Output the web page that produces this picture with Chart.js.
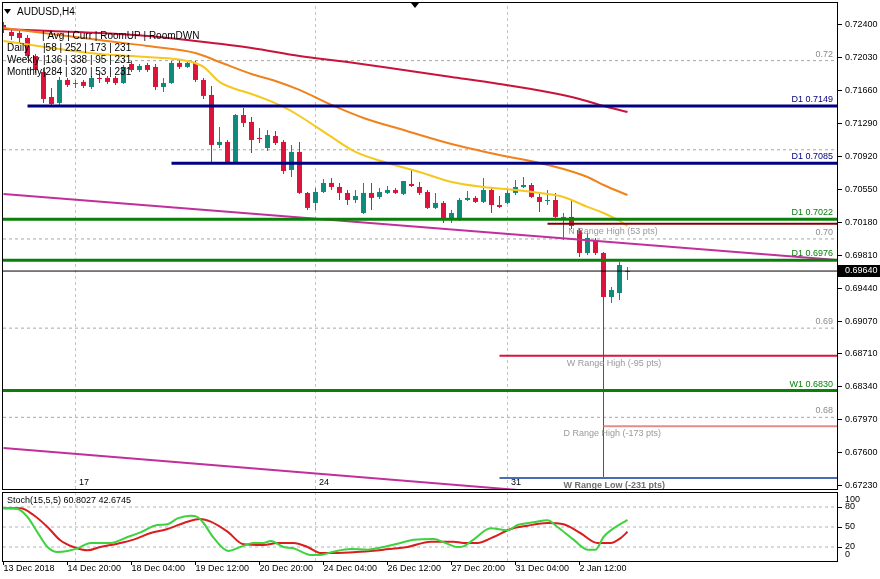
<!DOCTYPE html>
<html><head><meta charset="utf-8">
<script src="https://cdn.jsdelivr.net/npm/chart.js@4.4.1/dist/chart.umd.min.js"></script>
<style>
html,body{margin:0;padding:0;background:#fff;width:880px;height:579px;overflow:hidden}
#wrap{position:relative;width:880px;height:579px;background:#fff}
canvas{position:absolute;left:0}
#main{top:0}
#stoch{top:491px}
</style></head><body>
<div id="wrap"><canvas id="main" width="880" height="491"></canvas><canvas id="stoch" width="880" height="88"></canvas></div>
<script>
// ---------------- DATA ----------------
const symbol = 'AUDUSD,H4';
const xTickIdx = [0, 8, 16, 24, 32, 40, 48, 56, 64, 72];
const xTickLabels = ['13 Dec 2018','14 Dec 20:00','18 Dec 04:00','19 Dec 12:00','20 Dec 20:00','24 Dec 04:00','26 Dec 12:00','27 Dec 20:00','31 Dec 04:00','2 Jan 12:00'];
const sepIdx = [9, 39, 63];
const sepLabels = ['17', '24', '31'];
const yTicks = [0.72400,0.72030,0.71660,0.71290,0.70920,0.70550,0.70180,0.69810,0.69440,0.69070,0.68710,0.68340,0.67970,0.67600,0.67230];

const open  = [0.72400,0.72321,0.72310,0.72254,0.72052,0.71873,0.71592,0.71525,0.71783,0.71738,0.71761,0.71704,0.71805,0.71805,0.71805,0.71749,0.71962,0.71895,0.71951,0.71929,0.71704,0.71749,0.71974,0.71929,0.71974,0.71783,0.71615,0.71054,0.71088,0.70863,0.71390,0.71312,0.71133,0.71020,0.71155,0.71088,0.70774,0.70976,0.70516,0.70404,0.70527,0.70628,0.70583,0.70516,0.70437,0.70291,0.70516,0.70471,0.70516,0.70549,0.70505,0.70617,0.70583,0.70527,0.70348,0.70404,0.70213,0.70213,0.70437,0.70460,0.70415,0.70549,0.70381,0.70404,0.70516,0.70583,0.70605,0.70471,0.70426,0.70437,0.70235,0.70247,0.70101,0.69843,0.69989,0.69843,0.69349,0.69394,0.69630];
const high  = [0.72433,0.72355,0.72344,0.72288,0.72074,0.71917,0.71693,0.71817,0.71805,0.71783,0.71783,0.71828,0.71850,0.71828,0.71828,0.71951,0.71996,0.71962,0.71974,0.71962,0.71805,0.71996,0.72007,0.72007,0.71996,0.71805,0.71716,0.71256,0.71110,0.71402,0.71469,0.71368,0.71245,0.71222,0.71211,0.71110,0.71054,0.71088,0.70527,0.70572,0.70673,0.70684,0.70628,0.70549,0.70549,0.70628,0.70628,0.70572,0.70594,0.70572,0.70650,0.70774,0.70639,0.70549,0.70516,0.70426,0.70325,0.70460,0.70538,0.70482,0.70684,0.70572,0.70482,0.70549,0.70662,0.70695,0.70628,0.70527,0.70549,0.70516,0.70291,0.70437,0.70123,0.70067,0.70011,0.69854,0.69462,0.69742,0.69686];
const low   = [0.72310,0.72231,0.72187,0.72030,0.71861,0.71525,0.71491,0.71491,0.71704,0.71693,0.71693,0.71682,0.71749,0.71738,0.71727,0.71738,0.71873,0.71873,0.71873,0.71671,0.71648,0.71738,0.71906,0.71917,0.71761,0.71570,0.70863,0.71020,0.70852,0.70852,0.71256,0.70964,0.71076,0.70987,0.71054,0.70729,0.70695,0.70505,0.70325,0.70325,0.70516,0.70549,0.70437,0.70381,0.70404,0.70280,0.70325,0.70448,0.70505,0.70505,0.70493,0.70583,0.70493,0.70336,0.70336,0.70179,0.70179,0.70202,0.70426,0.70404,0.70404,0.70291,0.70348,0.70392,0.70493,0.70572,0.70460,0.70303,0.70381,0.70224,0.69989,0.70112,0.69798,0.69820,0.69820,0.67320,0.69282,0.69316,0.69540];
const close = [0.72344,0.72276,0.72254,0.72052,0.71895,0.71570,0.71514,0.71783,0.71727,0.71749,0.71716,0.71805,0.71794,0.71761,0.71749,0.71929,0.71895,0.71940,0.71895,0.71704,0.71749,0.71974,0.71929,0.71974,0.71783,0.71604,0.71054,0.71088,0.70863,0.71390,0.71301,0.71110,0.71121,0.71166,0.71076,0.70762,0.70976,0.70516,0.70348,0.70527,0.70628,0.70583,0.70516,0.70437,0.70482,0.70516,0.70460,0.70527,0.70549,0.70516,0.70650,0.70594,0.70516,0.70348,0.70404,0.70213,0.70291,0.70437,0.70460,0.70415,0.70549,0.70381,0.70359,0.70516,0.70583,0.70605,0.70471,0.70415,0.70437,0.70247,0.70247,0.70146,0.69843,0.70011,0.69843,0.69349,0.69428,0.69708,0.69640];

// moving averages (candle index / price)
const maSlowIdx = [0,6,12,18,24,31,37,43,50,56,62,68,72,75,78];
const maSlow    = [0.72355,0.72332,0.72310,0.72276,0.72220,0.72142,0.72052,0.71985,0.71895,0.71817,0.71738,0.71648,0.71570,0.71491,0.71424];
const maMidIdx  = [0,6,12,18,24,27,31,34,37,41,45,50,56,62,67,70,73,75,78];
const maMid     = [0.72366,0.72299,0.72231,0.72164,0.72086,0.71985,0.71850,0.71772,0.71671,0.71503,0.71357,0.71222,0.71065,0.70942,0.70852,0.70785,0.70695,0.70605,0.70493];
const maFastIdx = [0,6,12,18,23,25,27,29,31,33,35,37,41,44,48,52,56,60,64,67,70,73,75,77,78];
const maFast    = [0.72220,0.72142,0.72074,0.72041,0.71996,0.71929,0.71761,0.71682,0.71626,0.71559,0.71480,0.71379,0.71144,0.70976,0.70852,0.70751,0.70639,0.70583,0.70549,0.70516,0.70471,0.70359,0.70291,0.70202,0.70146];

// trend lines (candle index / price)
const trendUpperIdx = [0, 104.2];
const trendUpper    = [0.70505, 0.69764];
const trendLowerIdx = [0, 70];
const trendLower    = [0.67656, 0.67143];

// levels
const roundLevels = [0.72, 0.71, 0.70, 0.69, 0.68];
const roundLabels = ['0.72', '', '0.70', '0.69', '0.68'];
const d1Levels = [0.7149, 0.7085, 0.7022, 0.6976];
const d1StartIdx = [3, 21, 0, 0];
const w1Levels = [0.6830];
const rangeNames = ['N Range High (53 pts)', 'W Range High (-95 pts)', 'D Range High (-173 pts)', 'W Range Low (-231 pts)'];
const rangeValues = [0.7017, 0.6869, 0.6790, 0.6732];
const rangeStartIdx = [68, 62, 75, 62];
const rangeLabelIdx = [70.6, 70.4, 70, 70];
const lastPrice = 0.69640;

// info table
const infoRows = ['Daily', 'Weekly', 'Monthly'];
const infoAvg  = [58, 136, 284];
const infoCurr = [252, 338, 320];
const infoUp   = [173, 95, 53];
const infoDown = [231, 231, 231];

// stochastic
const stochName = 'Stoch(15,5,5) 60.8027 42.6745';
const stochKIdx = [0,1.75,3,4.25,5.5,6.75,8,9.25,10.9,13.4,15.5,17.1,19.25,20.5,21.75,23.4,24.25,25,26.25,28.1,29.6,31.25,32.5,33.4,35,36.25,38.4,39.6,41.25,43.4,45.5,47.5,49.6,51.25,53.75,55.25,56.75,57.5,58.75,60.9,63,64.25,66.25,68,69.25,71.25,73,74,75,76.25,78];
const stochK    = [78,77,65,42,20,12.5,14,18,26,26,35,42,53,54,63,67,65,56,34,14,20,26,26,29,20,18,8,8,13,17,16,20,26,31,32,26,20,21,31,48,45,53,57,60,50,31,16,16,35,48,60.8];
const stochDIdx = [0,2.1,3.75,5.5,7.1,8.75,10.5,12.1,14.25,16.25,18.4,20.5,23,24.6,25.9,28,30,32.5,34.25,36.25,38,39.6,41.25,44.6,47.5,50.5,53.4,56.25,57.5,59.25,61.25,63.4,65.5,68,70,72.1,74.25,75.9,77.1,78];
const stochD    = [78,78,68,50,30,20,15,20,25,31,41,47,58,62,58,43,24,23,26,26,20,11,11,13,16,20,28,28,26,26,35,47,52,56,54,41,26,26,33,42.7];
const stochLevels = [80, 50, 20];
const stochTicks = [80, 50, 20];
const stochEdgeTicks = [100, 0];

// ---------------- STYLE ----------------
const FONT = "'Liberation Sans', Arial, sans-serif";
Chart.defaults.font.family = FONT;
Chart.defaults.font.size = 9;
Chart.defaults.color = '#000';
Chart.defaults.animation = false;

const X_MIN = -0.0625, X_MAX = 104.1875;
const Y_MIN = 0.67196, Y_MAX = 0.72646;
const TEAL = '#108a7a', CRIMSON = '#dc143c';
const NAVY = '#000080', GREEN = '#0a800a';

const pts = (xs, ys) => xs.map((x, i) => ({x, y: ys[i]}));
const candleColors = open.map((o, i) => close[i] >= o ? TEAL : CRIMSON);
function lineDs(data, color, width, order, extra) {
  return Object.assign({type: 'line', data, borderColor: color, backgroundColor: color, borderWidth: width,
    pointRadius: 0, fill: false, order}, extra || {});
}
function noPad(s) { s.paddingTop = 0; s.paddingBottom = 0; s.paddingLeft = 0; s.paddingRight = 0; }

const mainDatasets = [];
roundLevels.forEach(v => mainDatasets.push(lineDs([{x: X_MIN, y: v}, {x: X_MAX, y: v}], '#a8a8a8', 1, 100, {borderDash: [3, 3]})));
sepIdx.forEach(s => mainDatasets.push(lineDs([{x: s, y: Y_MIN}, {x: s, y: Y_MAX}], '#c4c4c4', 1, 100, {borderDash: [3, 3]})));
mainDatasets.push({type: 'bar', data: open.map((o, i) => ({x: i, y: [low[i], high[i]]})), backgroundColor: candleColors,
  barThickness: 1, grouped: false, order: 90, borderWidth: 0, inflateAmount: 0});
mainDatasets.push({type: 'bar', data: open.map((o, i) => ({x: i, y: [o, close[i]]})), backgroundColor: candleColors,
  barThickness: 5, grouped: false, order: 89, borderWidth: 0, inflateAmount: 0, minBarLength: 1});
mainDatasets.push(lineDs(pts(maSlowIdx, maSlow), '#c8143c', 2, 52, {cubicInterpolationMode: 'monotone'}));
mainDatasets.push(lineDs(pts(maMidIdx, maMid), '#f0821e', 2, 51, {cubicInterpolationMode: 'monotone'}));
mainDatasets.push(lineDs(pts(maFastIdx, maFast), '#f5c81e', 2, 50, {cubicInterpolationMode: 'monotone'}));
mainDatasets.push(lineDs(pts(trendUpperIdx, trendUpper), '#c0309a', 2, 40));
mainDatasets.push(lineDs(pts(trendLowerIdx, trendLower), '#c0309a', 2, 40));
d1Levels.forEach((v, i) => mainDatasets.push(lineDs([{x: d1StartIdx[i] || X_MIN, y: v}, {x: X_MAX, y: v}], i < 2 ? NAVY : GREEN, 3, 30)));
w1Levels.forEach(v => mainDatasets.push(lineDs([{x: X_MIN, y: v}, {x: X_MAX, y: v}], GREEN, 3, 30)));
const rangeColors = ['#800000', '#dc143c', '#e58c87', '#4a6cb4'];
rangeValues.forEach((v, i) => mainDatasets.push(lineDs([{x: rangeStartIdx[i], y: v}, {x: X_MAX, y: v}], rangeColors[i], 2, 31)));
mainDatasets.push(lineDs([{x: X_MIN, y: lastPrice}, {x: X_MAX, y: lastPrice}], '#000', 1, 20));

const framePlugin = {
  id: 'frame',
  afterDraw(chart) {
    const {ctx, chartArea: a} = chart;
    ctx.save();
    ctx.strokeStyle = '#000'; ctx.lineWidth = 1;
    ctx.strokeRect(a.left - 0.5, a.top - 0.5, a.right - a.left + 1, a.bottom - a.top + 1);
    ctx.restore();
  }
};

const mainOverlay = {
  id: 'mainOverlay',
  afterDraw(chart) {
    const {ctx, chartArea: a, scales: {x, y}} = chart;
    ctx.save();
    ctx.fillStyle = '#000';
    ctx.beginPath(); ctx.moveTo(4, 9); ctx.lineTo(11, 9); ctx.lineTo(7.5, 14); ctx.closePath(); ctx.fill();
    ctx.beginPath(); ctx.moveTo(411, 3); ctx.lineTo(419, 3); ctx.lineTo(415, 8); ctx.closePath(); ctx.fill();
    ctx.font = '10px ' + FONT; ctx.textBaseline = 'middle'; ctx.textAlign = 'left';
    ctx.fillText(symbol, 17, 12);
    ctx.fillText('| Avg | Curr | RoomUP | RoomDWN', 42, 36);
    infoRows.forEach((r, i) => {
      const yy = 48 + i * 12;
      ctx.fillText(r, 7, yy);
      ctx.fillText('|' + infoAvg[i] + ' | ' + infoCurr[i] + ' | ' + infoUp[i] + ' | ' + infoDown[i], 43, yy);
    });
    ctx.font = '9px ' + FONT;
    const rx = a.right - 4;
    ctx.textAlign = 'right'; ctx.textBaseline = 'bottom';
    roundLevels.forEach((v, i) => { if (!roundLabels[i]) return; ctx.fillStyle = '#8c8c8c'; ctx.fillText(roundLabels[i], rx, y.getPixelForValue(v) - 2); });
    d1Levels.forEach((v, i) => { ctx.fillStyle = i < 2 ? NAVY : GREEN; ctx.fillText('D1 ' + v.toFixed(4), rx, y.getPixelForValue(v) - 2); });
    w1Levels.forEach(v => { ctx.fillStyle = GREEN; ctx.fillText('W1 ' + v.toFixed(4), rx, y.getPixelForValue(v) - 2); });
    ctx.textAlign = 'left'; ctx.textBaseline = 'top';
    rangeNames.forEach((t, i) => {
      ctx.fillStyle = i === 3 ? '#6e6e6e' : '#9a9a9a';
      ctx.font = (i === 3 ? 'bold ' : '') + '9px ' + FONT;
      ctx.fillText(t, x.getPixelForValue(rangeLabelIdx[i]), y.getPixelForValue(rangeValues[i]) + 3);
    });
    ctx.font = '9px ' + FONT; ctx.fillStyle = '#000'; ctx.textBaseline = 'bottom';
    sepIdx.forEach((s, i) => ctx.fillText(sepLabels[i], Math.round(x.getPixelForValue(s)) + 3, a.bottom - 2));
    const py = Math.round(y.getPixelForValue(lastPrice));
    ctx.fillStyle = '#000'; ctx.fillRect(a.right + 1, py - 6, 42, 12);
    ctx.fillStyle = '#fff'; ctx.textBaseline = 'middle';
    ctx.fillText(lastPrice.toFixed(5), a.right + 8, py);
    ctx.restore();
  }
};

new Chart(document.getElementById('main'), {
  type: 'bar',
  data: {datasets: mainDatasets},
  options: {
    responsive: false, devicePixelRatio: 1, animation: false, events: [],
    layout: {padding: {left: 3, top: 3, right: 0, bottom: 2}},
    plugins: {legend: {display: false}, tooltip: {enabled: false}},
    scales: {
      x: {type: 'linear', min: X_MIN, max: X_MAX, offset: false, display: false},
      y: {type: 'linear', position: 'right', min: Y_MIN, max: Y_MAX,
        afterBuildTicks: s => { s.ticks = yTicks.map(v => ({value: v})); },
        afterFit: s => { s.width = 43; noPad(s); },
        ticks: {callback: v => Number(v).toFixed(5), padding: 3, autoSkip: false, color: '#000', font: {size: 9}},
        grid: {drawOnChartArea: false, drawTicks: true, tickLength: 5, tickColor: '#000'},
        border: {display: true, color: '#000'}}
    }
  },
  plugins: [mainOverlay, framePlugin]
});

// ---------------- STOCH ----------------
const stochDatasets = [];
stochLevels.forEach(v => stochDatasets.push(lineDs([{x: X_MIN, y: v}, {x: X_MAX, y: v}], '#b4b4b4', 1, 100, {borderDash: [3, 3]})));
sepIdx.forEach(s => stochDatasets.push(lineDs([{x: s, y: -1}, {x: s, y: 101}], '#c4c4c4', 1, 100, {borderDash: [3, 3]})));
stochDatasets.push(lineDs(pts(stochDIdx, stochD), '#d81e1e', 2, 11, {cubicInterpolationMode: 'monotone'}));
stochDatasets.push(lineDs(pts(stochKIdx, stochK), '#3ed23e', 2, 10, {cubicInterpolationMode: 'monotone'}));

const stochOverlay = {
  id: 'stochOverlay',
  afterDraw(chart) {
    const {ctx, chartArea: a, scales: {y}} = chart;
    ctx.save();
    ctx.font = '9px ' + FONT; ctx.fillStyle = '#000'; ctx.textBaseline = 'middle'; ctx.textAlign = 'left';
    ctx.fillText(stochName, 7, 10);
    stochEdgeTicks.forEach(v => {
      let py = y.getPixelForValue(v);
      py = Math.min(Math.max(py, a.top + 7), a.bottom - 6);
      ctx.fillText(String(v), a.right + 8, py);
    });
    ctx.restore();
  }
};

new Chart(document.getElementById('stoch'), {
  type: 'line',
  data: {datasets: stochDatasets},
  options: {
    responsive: false, devicePixelRatio: 1, animation: false, events: [],
    layout: {padding: {left: 3, top: 2, right: 0, bottom: 0}},
    plugins: {legend: {display: false}, tooltip: {enabled: false}},
    scales: {
      x: {type: 'linear', min: X_MIN, max: X_MAX, offset: false,
        afterBuildTicks: s => { s.ticks = xTickIdx.map(v => ({value: v})); },
        afterFit: s => { s.height = 18; noPad(s); },
        ticks: {align: 'start', autoSkip: false, maxRotation: 0, padding: -2, color: '#000', font: {size: 9},
          callback: v => xTickLabels[xTickIdx.indexOf(v)]},
        grid: {drawOnChartArea: false, drawTicks: true, tickLength: 4, tickColor: '#000'},
        border: {display: true, color: '#000'}},
      y: {type: 'linear', position: 'right', min: -1, max: 101,
        afterBuildTicks: s => { s.ticks = stochTicks.map(v => ({value: v})); },
        afterFit: s => { s.width = 43; noPad(s); },
        ticks: {padding: 3, autoSkip: false, color: '#000', font: {size: 9}},
        grid: {drawOnChartArea: false, drawTicks: true, tickLength: 5, tickColor: '#000'},
        border: {display: true, color: '#000'}}
    }
  },
  plugins: [stochOverlay, framePlugin]
});
</script>
</body></html>
